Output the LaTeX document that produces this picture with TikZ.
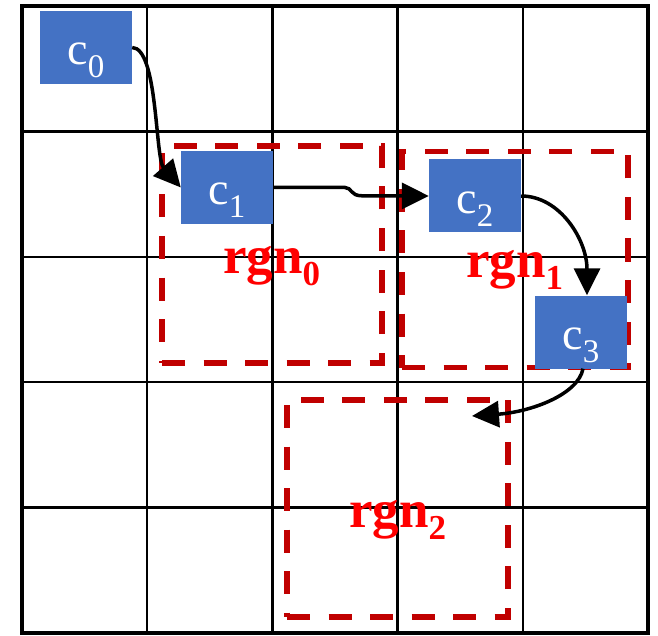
\documentclass[tikz,border=0pt]{standalone}
\usepackage{fontspec}
\setmainfont{Liberation Serif}
\newfontfamily\tnr{Liberation Serif}
\usetikzlibrary{arrows.meta}
\definecolor{cblue}{HTML}{4472C4}
\definecolor{dred}{HTML}{C00000}
\newcommand{\csub}[1]{\tnr c\raisebox{-13pt}{\tnr\fontsize{33}{33}\selectfont #1}}
\newcommand{\rsub}[1]{\tnr\bfseries rgn\raisebox{-12pt}{\tnr\bfseries\fontsize{35}{35}\selectfont #1}}
\begin{document}
\begin{tikzpicture}[x=1pt,y=-1pt,
  cellbox/.style={fill=cblue, text=white, minimum width=92pt, minimum height=73pt,
    inner sep=0pt, text height=46pt, text depth=11pt, font=\tnr\fontsize{46}{46}\selectfont},
  regbox/.style={draw=dred, line width=5.5pt, dash pattern=on 23pt off 18.5pt, inner sep=0pt},
  reglabel/.style={text=red, inner sep=0pt, anchor=base west, font=\tnr\bfseries\fontsize{53}{53}\selectfont},
  flow/.style={line width=3.5pt, -{Triangle[length=27pt,width=26pt]}},
  gridline/.style={line width=2.4pt},
]
\useasboundingbox (0,0) rectangle (658,636);
% grid
\foreach \x in {147.2,272.4,397.6,522.8} \draw[gridline] (\x,6) -- (\x,633);
\foreach \y in {131.4,256.8,382.2,507.6} \draw[gridline] (22,\y) -- (648,\y);
\draw[line width=4pt] (22,6) rectangle (648,633);
% regions
\node[regbox, minimum width=220pt, minimum height=217pt] (r0) at (272,254.5) {};
\node[regbox, minimum width=226pt, minimum height=216pt] (r1) at (515,259.5) {};
\node[regbox, minimum width=221pt, minimum height=217pt] (r2) at (397.5,508.5) {};
\node[reglabel] (l0) at (223,273) {\rsub{0}};
\node[reglabel] (l1) at (466,277) {\rsub{1}};
\node[reglabel] (l2) at (349,527) {\rsub{2}};
% cells
\node[cellbox] (c0) at (86,47.5) {\csub{0}};
\node[cellbox] (c1) at (227,187.5) {\csub{1}};
\node[cellbox] (c2) at (475,196) {\csub{2}};
\node[cellbox] (c3) at (581,332) {\csub{3}};
\coordinate (t2) at (472,416);
% arrows
\draw[flow] (c0.east) .. controls (158,48) and (155,158) .. (c1.west);
\draw[flow] (c1.east) -- (345,187.5) .. controls (352,187.5) and (350,195.8) .. (362,195.8) -- (c2.west);
\draw[flow] (c2.east) .. controls (560,196) and (587,240) .. ([xshift=6pt]c3.north);
\draw[flow] ([xshift=2pt]c3.south) .. controls (578,395) and (530,412) .. (t2);
\end{tikzpicture}
\end{document}
